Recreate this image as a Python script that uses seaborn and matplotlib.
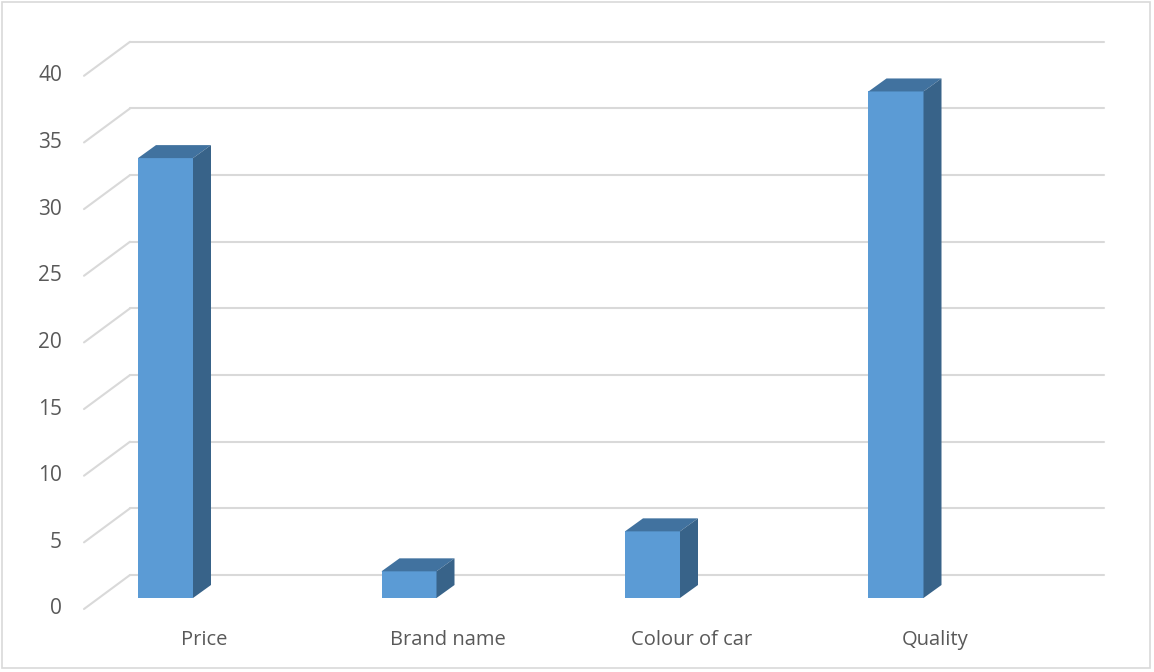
import numpy as np
import pandas as pd
import matplotlib
matplotlib.use("Agg")
import matplotlib.pyplot as plt
import matplotlib.patches as mpatches
import seaborn as sns

# ── data ─────────────────────────────────────────────
categories = ["Price", "Brand name", "Colour of car", "Quality"]
values = [33, 2, 5, 38]
y_ticks = [0, 5, 10, 15, 20, 25, 30, 35, 40]

# ── style ────────────────────────────────────────────
sns.set_style("white")
plt.rcParams["font.family"] = ["Open Sans", "DejaVu Sans"]

front_col = "#5B9BD5"
top_col = "#41729F"
side_col = "#386389"
grid_col = "#D9D9D9"
text_col = "#595959"

W, H = 1154, 672
fig = plt.figure(figsize=(W / 100, H / 100), dpi=100)

# pixel geometry of the bar front plane
px_cat = 243.5          # pixels per category
px_val = 13.33          # pixels per unit value
x0_px, y0_px = 165.5, 598
ax = fig.add_axes([(x0_px - 0.5 * px_cat) / W, (H - y0_px) / H,
                   4 * px_cat / W, 40 * px_val / H])

df = pd.DataFrame({"cat": categories, "val": values})
sns.barplot(data=df, x="cat", y="val", color=front_col, saturation=1,
            width=55 / px_cat, ax=ax, zorder=3, linewidth=0)
ax.set_xlim(-0.5, 3.5)
ax.set_ylim(0, 40)
ax.axis("off")

# 3D depth of bars (in data units)
bdx, bdy = 18 / px_cat, 13 / px_val
for p in list(ax.patches):
    x, w, h = p.get_x(), p.get_width(), p.get_height()
    top = [(x, h), (x + w, h), (x + w + bdx, h + bdy), (x + bdx, h + bdy)]
    side = [(x + w, 0), (x + w, h), (x + w + bdx, h + bdy), (x + w + bdx, bdy)]
    ax.add_patch(mpatches.Polygon(top, closed=True, color=top_col, zorder=3, lw=0))
    ax.add_patch(mpatches.Polygon(side, closed=True, color=side_col, zorder=3, lw=0))

# back wall gridlines and floor diagonals
back_dy = 23 / px_val
front_dy = -11 / px_val
back_x0 = (130 - x0_px) / px_cat
back_x1 = (1104 - x0_px) / px_cat
front_x = (84 - x0_px) / px_cat
for v in y_ticks:
    ax.plot([back_x0, back_x1], [v + back_dy, v + back_dy], color=grid_col,
            lw=1.5, zorder=1, clip_on=False)
    ax.plot([front_x, back_x0], [v + front_dy, v + back_dy], color=grid_col,
            lw=1.5, zorder=1, clip_on=False)
    ax.text((62 - x0_px) / px_cat, v + front_dy, str(v), ha="right", va="center",
            fontsize=15, color=text_col, clip_on=False)

# category labels on the floor front
lab_dx = 39 / px_cat
lab_y = -42 / px_val
for i, c in enumerate(categories):
    ax.text(i + lab_dx, lab_y, c, ha="center", va="center", fontsize=14.5,
            color=text_col, clip_on=False)

# chart frame
fig.patches.append(mpatches.Rectangle((2 / W, 4 / H), 1148 / W, 666 / H,
                                      transform=fig.transFigure, fill=False,
                                      edgecolor=grid_col, lw=1.2))

fig.savefig("out.png", dpi=100)
